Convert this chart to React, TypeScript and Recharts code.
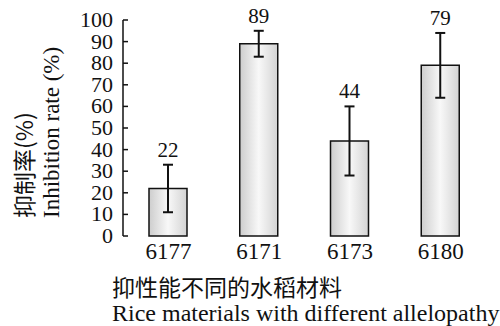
import React from 'react';
import { BarChart, Bar, XAxis, YAxis, ErrorBar, LabelList } from 'recharts';

const categories = ['6177', '6171', '6173', '6180'];
const rates = [22, 89, 44, 79];
const errors = [11, 6, 16, 15];
const yTicks = [0, 10, 20, 30, 40, 50, 60, 70, 80, 90, 100];
const edgeTicks = [1, 2, 3, 4];

const data = categories.map((name, i) => ({ name, rate: rates[i], err: errors[i] }));

const serif = '"Liberation Serif", "Times New Roman", serif';
const cjk = '"Noto Sans CJK SC", sans-serif';

// value label sits above the top of the error bar
const ValueLabel = (props: any) => {
  const { x, y, width, height, value, index } = props;
  const perUnit = height / value;
  const top = y - errors[index] * perUnit;
  return (
    <text x={x + width / 2} y={top - 8} textAnchor="middle" fontFamily={serif} fontSize={21} fill="#111">
      {value}
    </text>
  );
};

const YTick = (props: any) => {
  const { x, y, payload } = props;
  return (
    <text x={x} y={y} dy={7} textAnchor="end" fontFamily={serif} fontSize={22} fill="#111">
      {payload.value}
    </text>
  );
};

const XTick = (props: any) => {
  const { x, y, payload } = props;
  return (
    <text x={x} y={y} dy={23} textAnchor="middle" fontFamily={serif} fontSize={23} fill="#111">
      {payload.value}
    </text>
  );
};

export default function App() {
  return (
    <div style={{ position: 'absolute', left: 0, top: 0, width: 500, height: 326, background: '#fff' }}>
      <BarChart width={500} height={326} data={data} margin={{ top: 20, right: 14, bottom: 60, left: 0 }}>
        <defs>
          <linearGradient id="barFill" x1="0" y1="0" x2="1" y2="0">
            <stop offset="0%" stopColor="#cdcdcd" />
            <stop offset="50%" stopColor="#f8f8f8" />
            <stop offset="100%" stopColor="#d3d3d3" />
          </linearGradient>
        </defs>
        <XAxis
          xAxisId="edge"
          type="number"
          domain={[0, 4]}
          ticks={edgeTicks}
          height={0}
          tick={false}
          tickSize={-5}
          axisLine={{ stroke: '#111', strokeWidth: 1.5 }}
          tickLine={{ stroke: '#111', strokeWidth: 1.5 }}
          allowDataOverflow
        />
        <XAxis
          xAxisId="cat"
          dataKey="name"
          height={30}
          axisLine={false}
          tickLine={false}
          tickSize={0}
          tickMargin={0}
          tick={<XTick />}
        />
        <YAxis
          width={123}
          domain={[0, 100]}
          ticks={yTicks}
          interval={0}
          tickSize={-5}
          tickMargin={15}
          axisLine={{ stroke: '#111', strokeWidth: 1.5 }}
          tickLine={{ stroke: '#111', strokeWidth: 1.5 }}
          tick={<YTick />}
        />
        <Bar
          xAxisId="cat"
          dataKey="rate"
          barSize={38}
          fill="url(#barFill)"
          stroke="#111"
          strokeWidth={1.5}
          isAnimationActive={false}
        >
          <ErrorBar dataKey="err" width={5} stroke="#111" strokeWidth={2} direction="y" />
          <LabelList dataKey="rate" content={<ValueLabel />} />
        </Bar>
        <text
          transform="translate(33, 218) rotate(-90)"
          fontFamily={cjk}
          fontSize={23}
          fill="#111"
        >
          抑制率(%)
        </text>
        <text
          transform="translate(59, 218) rotate(-90)"
          fontFamily={serif}
          fontSize={23}
          fill="#111"
        >
          Inhibition rate (%)
        </text>
        <text x={112} y={296} fontFamily={cjk} fontSize={23} fill="#111">
          抑性能不同的水稻材料
        </text>
        <text x={112} y={321} fontFamily={serif} fontSize={24} fill="#111">
          Rice materials with different allelopathy
        </text>
      </BarChart>
    </div>
  );
}
